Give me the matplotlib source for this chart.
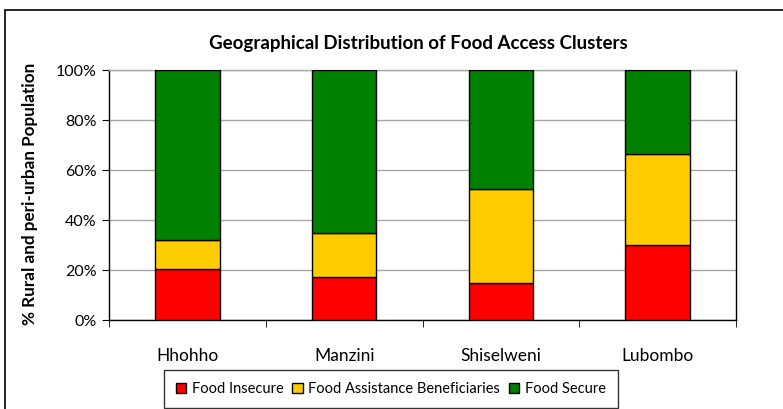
import matplotlib.pyplot as plt
import matplotlib.patches as mpatches
import numpy as np

# regions and the share of each food access cluster (percent)
regions = ["Hhohho", "Manzini", "Shiselweni", "Lubombo"]
food_insecure = [20.5, 17.2, 14.8, 29.9]
assistance = [11.5, 17.8, 37.6, 36.4]
food_secure = [68.0, 65.0, 47.6, 33.7]

series = [
    ("Food Insecure", food_insecure, "#FF0000"),
    ("Food Assistance Beneficiaries", assistance, "#FFCC00"),
    ("Food Secure", food_secure, "#008000"),
]

plt.rcParams['font.family'] = ['Lato', 'DejaVu Sans']

fig = plt.figure(figsize=(7.83, 4.09), dpi=100)
ax = fig.add_axes([109/783, 1 - 320/409, (736 - 109)/783, 250/409])

x = np.arange(len(regions))
bottom = np.zeros(len(regions))
handles = []
for name, vals, col in series:
    b = ax.bar(x, vals, width=0.41, bottom=bottom, color=col,
               edgecolor="black", linewidth=1.0, label=name, zorder=3)
    bottom += np.array(vals)
    handles.append(b)

ax.set_xlim(-0.5, len(regions) - 0.5)
ax.set_ylim(0, 100)
ax.set_yticks(np.arange(0, 101, 20))
ax.set_yticklabels([f"{v}%" for v in range(0, 101, 20)], fontsize=11.5)
ax.yaxis.grid(True, color="#a6a6a6", linewidth=1.0, zorder=0)

# category labels centred, tick marks on the category boundaries
ax.set_xticks(x)
ax.set_xticklabels(regions, fontsize=12.5)
ax.tick_params(axis="x", length=0, pad=20)
ax.set_xticks(np.arange(-0.5, len(regions)), minor=True)
ax.tick_params(axis="x", which="minor", length=5, direction="out", color="black")
ax.tick_params(axis="y", length=5, direction="out", color="black", pad=4)

ax.spines["left"].set_color("black")
ax.spines["bottom"].set_color("black")
ax.spines["right"].set_color("black")
ax.spines["top"].set_color("#a6a6a6")
for s in ax.spines.values():
    s.set_linewidth(1.0)

fig.text(418/783, 1 - 44/409, "Geographical Distribution of Food Access Clusters",
         ha="center", va="center", fontsize=13.5, fontweight="bold")
fig.text(30/783, 1 - 194/409, "% Rural and peri-urban Population",
         ha="center", va="center", rotation=90, fontsize=12.3, fontweight="bold")

leg = fig.legend(handles=handles, loc="center", bbox_to_anchor=(391/783, 1 - 389/409),
                 ncol=3, fontsize=10.5, frameon=True, fancybox=False,
                 handlelength=0.7, handleheight=0.7, handletextpad=0.4,
                 columnspacing=0.6, borderpad=0.8, edgecolor="black")
leg.get_frame().set_linewidth(1.0)

# chart frame
fig.patches.append(mpatches.Rectangle((5/783, -0.1), 1.2, 1 - 10/409 + 0.1,
                                      transform=fig.transFigure, fill=False,
                                      edgecolor="black", linewidth=1.2))

fig.savefig("out.png", dpi=100)
